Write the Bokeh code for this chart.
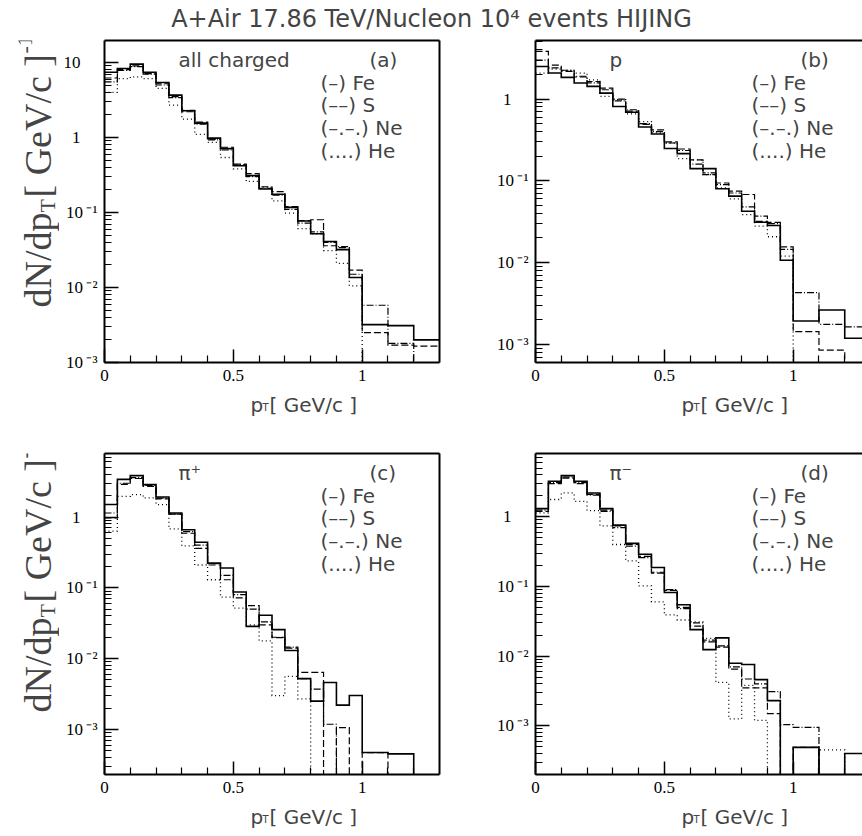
import math
from bokeh.plotting import figure
from bokeh.models import FixedTicker, LogAxis, LinearAxis, Label, Range1d
from bokeh.layouts import column, row
from bokeh.embed import file_html
from bokeh.resources import INLINE

# ---------------- data ----------------
bin_edges = [0.00, 0.05, 0.10, 0.15, 0.20, 0.25, 0.30, 0.35, 0.40, 0.45, 0.50,
             0.55, 0.60, 0.65, 0.70, 0.75, 0.80, 0.85, 0.90, 0.95, 1.00,
             1.10, 1.20, 1.30]

# (a) all charged
fe_a = [7.4, 8.3, 9.5, 7.4, 5.4, 3.66, 2.27, 1.55, 0.98, 0.71, 0.42, 0.31, 0.205, 0.175,
        0.117, 0.077, 0.052, 0.041, 0.032, 0.0136, 0.0032, 0.0031, 0.0020]
s_a = [6.2, 8.0, 9.0, 7.1, 5.2, 3.5, 2.2, 1.6, 0.95, 0.74, 0.44, 0.33, 0.22, 0.19,
       0.12, 0.078, 0.080, 0.036, 0.034, 0.017, 0.0025, 0.0017, 0.00165]
ne_a = [5.5, 7.8, 8.8, 7.0, 5.0, 3.4, 2.3, 1.5, 0.93, 0.68, 0.43, 0.30, 0.21, 0.17,
        0.11, 0.072, 0.055, 0.040, 0.035, 0.015, 0.0058, 0.0018, 0.0]
he_a = [4.0, 6.1, 6.4, 6.1, 4.5, 2.7, 1.75, 1.1, 0.86, 0.54, 0.38, 0.26, 0.215, 0.143,
        0.098, 0.061, 0.052, 0.031, 0.021, 0.0105, 0.0, 0.0, 0.0]

# (b) p
fe_b = [2.5, 2.08, 1.84, 1.57, 1.43, 1.18, 0.81, 0.69, 0.455, 0.374, 0.248, 0.215, 0.141, 0.141,
        0.080, 0.065, 0.0425, 0.0312, 0.0284, 0.0107, 0.00193, 0.00263, 0.00119]
s_b = [3.82, 2.6, 2.18, 1.86, 1.64, 1.36, 1.0, 0.71, 0.49, 0.42, 0.30, 0.245, 0.18, 0.119,
       0.094, 0.075, 0.068, 0.032, 0.031, 0.0156, 0.00143, 0.00085, 0.0]
ne_b = [3.0, 2.4, 2.25, 1.9, 1.58, 1.3, 0.95, 0.74, 0.50, 0.40, 0.29, 0.235, 0.16, 0.125,
        0.090, 0.071, 0.048, 0.037, 0.030, 0.0145, 0.0043, 0.00176, 0.00164]
he_b = [2.08, 2.32, 2.24, 2.08, 1.72, 1.08, 0.98, 0.66, 0.53, 0.385, 0.29, 0.187, 0.18, 0.119,
        0.082, 0.060, 0.0387, 0.0279, 0.0207, 0.012, 0.0, 0.0, 0.0]

# (c) pi+
fe_c = [1.5, 3.4, 3.85, 2.87, 1.92, 1.14, 0.66, 0.44, 0.223, 0.19, 0.087, 0.0285, 0.041, 0.0256,
        0.013, 0.0052, 0.0025, 0.0046, 0.0022, 0.0030, 0.00047, 0.00045, 0.0]
s_c = [0.97, 2.9, 3.5, 2.7, 1.8, 1.1, 0.59, 0.36, 0.21, 0.13, 0.072, 0.056, 0.030, 0.0198,
       0.014, 0.0064, 0.0064, 0.0, 0.00106, 0.0, 0.00047, 0.0, 0.0]
ne_c = [1.14, 3.0, 3.6, 2.8, 1.85, 1.1, 0.62, 0.40, 0.22, 0.15, 0.08, 0.05, 0.033, 0.020,
        0.0145, 0.0052, 0.0037, 0.00118, 0.0, 0.0, 0.0, 0.0, 0.0]
he_c = [0.63, 1.96, 2.07, 1.86, 1.5, 0.68, 0.39, 0.21, 0.13, 0.074, 0.0515, 0.030, 0.0178, 0.0030,
        0.0056, 0.0027, 0.0, 0.0, 0.0, 0.0, 0.0, 0.0, 0.0]

# (d) pi-
fe_d = [1.31, 3.23, 3.9, 3.23, 2.2, 1.31, 0.76, 0.416, 0.29, 0.187, 0.082, 0.0547, 0.024, 0.0124,
        0.0183, 0.0079, 0.0076, 0.0046, 0.0023, 0.0, 0.00049, 0.0, 0.00040]
s_d = [1.2, 3.0, 3.6, 3.0, 2.1, 1.25, 0.74, 0.40, 0.27, 0.155, 0.088, 0.050, 0.027, 0.016,
       0.0135, 0.0065, 0.0035, 0.0035, 0.0015, 0.0, 0.00049, 0.0, 0.0]
ne_d = [1.25, 3.1, 3.7, 3.1, 2.05, 1.2, 0.70, 0.38, 0.26, 0.16, 0.090, 0.048, 0.030, 0.017,
        0.014, 0.0070, 0.0047, 0.0040, 0.0031, 0.00104, 0.00095, 0.0, 0.0]
he_d = [1.14, 1.77, 2.2, 1.67, 1.23, 0.74, 0.40, 0.233, 0.102, 0.060, 0.039, 0.033, 0.031, 0.018,
        0.0042, 0.00126, 0.0038, 0.0012, 0.0, 0.0, 0.0, 0.00045, 0.0]

x_ticks = [0, 0.5, 1]
x_tick_labels = ["0", "0.5", "1"]
x_minor_ticks = [0.1, 0.2, 0.3, 0.4, 0.6, 0.7, 0.8, 0.9, 1.1, 1.2]
y_ticks = [1e-3, 1e-2, 1e-1, 1, 10]
y_tick_labels = ["10\u2009\u207b\u00b3", "10\u2009\u207b\u00b2", "10\u2009\u207b\u00b9",
                 "1\u2002\u2002", "10\u2002\u2002"]

panel_tags = ["all charged", "p", "\u03c0\u207a", "\u03c0\u207b"]
panel_letters = ["(a)", "(b)", "(c)", "(d)"]
legend_texts = ["(\u2013) Fe", "(\u2013\u2013) S", "(\u2013.\u2013.) Ne", "(....) He"]
title_text = "A+Air 17.86 TeV/Nucleon 10\u2074 events HIJING"

# ---------------- styles ----------------
line_styles = [dict(line_width=1.6, line_dash="solid"),
               dict(line_width=1.2, line_dash="7 3"),
               dict(line_width=1.2, line_dash="7 2 1 2"),
               dict(line_width=1.3, line_dash="1 3")]
SERIF = "Liberation Serif"
SANS = "DejaVu Sans"
SCALE = 257.7  # px per GeV/c


def step_xy(vals, floor):
    xs, ys = [], []
    for i, v in enumerate(vals):
        yv = v if v > 0 else floor
        xs += [bin_edges[i], bin_edges[i + 1]]
        ys += [yv, yv]
    return xs, ys


def blank_fig(width, height):
    f = figure(width=width, height=height, output_backend="svg", toolbar_location=None,
               x_range=Range1d(0, 1), y_range=Range1d(0, 1), x_axis_type=None, y_axis_type=None,
               min_border=0)
    f.outline_line_color = None
    f.grid.visible = False
    return f


def make_panel(width, height, bl, br, bt, bb, y_start, y_end, has_right, data, idx):
    frame_w = width - bl - br
    x_end = frame_w / SCALE
    p = figure(width=width, height=height, output_backend="svg", toolbar_location=None,
               x_range=Range1d(0, x_end), y_range=Range1d(y_start, y_end), y_axis_type="log",
               min_border_left=bl, min_border_right=br, min_border_top=bt, min_border_bottom=bb)
    p.outline_line_color = None
    p.grid.visible = False

    xa = p.xaxis[0]
    xa.ticker = FixedTicker(ticks=x_ticks, minor_ticks=x_minor_ticks)
    xa.major_label_overrides = dict(zip(x_ticks, x_tick_labels))
    ya = p.yaxis[0]
    ya.ticker = FixedTicker(ticks=y_ticks,
                            minor_ticks=[m * 10.0 ** e for e in range(-4, 2) for m in range(2, 10)])
    ya.major_label_overrides = dict(zip(y_ticks, y_tick_labels))
    for ax, tin in ((xa, 13), (ya, 14)):
        ax.axis_line_width = 2
        ax.axis_line_color = "black"
        ax.major_tick_in = tin
        ax.major_tick_out = 0
        ax.minor_tick_in = 7
        ax.minor_tick_out = 0
        ax.major_tick_line_width = 1.5
        ax.minor_tick_line_width = 1.2
        ax.major_tick_line_color = "black"
        ax.minor_tick_line_color = "black"
        ax.major_label_text_font = SERIF
        ax.major_label_text_font_size = "17px"
        ax.major_label_text_color = "black"
    xa.major_label_standoff = 7
    ya.major_label_standoff = 7

    top = LinearAxis(ticker=FixedTicker(ticks=[]), axis_line_width=2, axis_line_color="black",
                     major_tick_out=0, minor_tick_out=0, major_label_standoff=0)
    p.add_layout(top, "above")
    if has_right:
        right = LogAxis(ticker=FixedTicker(ticks=[]), axis_line_width=2, axis_line_color="black",
                        major_tick_out=0, minor_tick_out=0, major_label_standoff=0)
        p.add_layout(right, "right")

    floor = y_start * 0.01
    for vals, st in zip(data, line_styles):
        xs, ys = step_xy(vals, floor)
        p.line(xs, ys, line_color="black", line_join="miter", **st)

    frame_h = height - bt - bb
    # in-panel texts (screen units relative to the frame, y up from its bottom)
    p.add_layout(Label(x=74, y=frame_h - 19, x_units="screen", y_units="screen", text=panel_tags[idx],
                       text_font=SANS, text_font_size="20px", text_baseline="middle"))
    p.add_layout(Label(x=265, y=frame_h - 19, x_units="screen", y_units="screen", text=panel_letters[idx],
                       text_font=SANS, text_font_size="20px", text_baseline="middle"))
    for k, t in enumerate(legend_texts):
        p.add_layout(Label(x=216, y=frame_h - 42 - k * 22.7, x_units="screen", y_units="screen", text=t,
                           text_font=SANS, text_font_size="20px", text_baseline="middle"))
    return p


def add_xlabel(f, x0, base):
    f.add_layout(Label(x=x0, y=base, x_units="screen", y_units="screen", text="p",
                       text_font=SANS, text_font_size="20px", text_baseline="alphabetic"))
    f.add_layout(Label(x=x0 + 12, y=base - 3, x_units="screen", y_units="screen", text="T",
                       text_font=SANS, text_font_size="10px", text_baseline="alphabetic"))
    f.add_layout(Label(x=x0 + 19, y=base, x_units="screen", y_units="screen", text="[ GeV/c ]",
                       text_font=SANS, text_font_size="20px", text_baseline="alphabetic"))


def add_ylabel(f, y0):
    # rotated labels are centred on their anchor across the line, so the
    # anchors sit ~0.34 em left of the wanted baselines
    a = math.pi / 2
    f.add_layout(Label(x=37.5, y=y0, x_units="screen", y_units="screen", text="dN/dp", angle=a,
                       text_font=SERIF, text_font_size="38px", text_baseline="alphabetic"))
    f.add_layout(Label(x=46.5, y=y0 + 95, x_units="screen", y_units="screen", text="T", angle=a,
                       text_font=SERIF, text_font_size="22px", text_baseline="alphabetic"))
    f.add_layout(Label(x=37.5, y=y0 + 110, x_units="screen", y_units="screen", text="[ GeV/c ]", angle=a,
                       text_font=SERIF, text_font_size="38px", text_baseline="alphabetic"))
    f.add_layout(Label(x=24, y=y0 + 254, x_units="screen", y_units="screen", text="-1", angle=a,
                       text_font=SERIF, text_font_size="22px", text_baseline="alphabetic"))


# ---------------- layout ----------------
title_fig = blank_fig(862, 34)
title_fig.add_layout(Label(x=0.5, y=0.47, text=title_text, text_font=SANS, text_font_size="24px",
                           text_align="center", text_baseline="middle"))

pa = make_panel(411, 358, 45, 31, 6, 30, 1e-3, 19.6, True, [fe_a, s_a, ne_a, he_a], 0)
pb = make_panel(392, 358, 65, 0, 6, 30, 6e-4, 5.2, False, [fe_b, s_b, ne_b, he_b], 1)
pc = make_panel(411, 384, 45, 31, 33, 30, 2.3e-4, 7.9, True, [fe_c, s_c, ne_c, he_c], 2)
pd = make_panel(392, 384, 65, 0, 33, 30, 2.0e-4, 8.1, False, [fe_d, s_d, ne_d, he_d], 3)

ylab1 = blank_fig(59, 358)
add_ylabel(ylab1, 55)
ylab2 = blank_fig(59, 384)
add_ylabel(ylab2, 62)

xlab1 = blank_fig(862, 28)
add_xlabel(xlab1, 250, 16)
add_xlabel(xlab1, 681, 16)
xlab2 = blank_fig(862, 32)
add_xlabel(xlab2, 250, 20)
add_xlabel(xlab2, 681, 20)

layout = column(title_fig,
                row(ylab1, pa, pb, spacing=0),
                xlab1,
                row(ylab2, pc, pd, spacing=0),
                xlab2,
                spacing=0)

open("out.html", "w").write(file_html(layout, INLINE))
